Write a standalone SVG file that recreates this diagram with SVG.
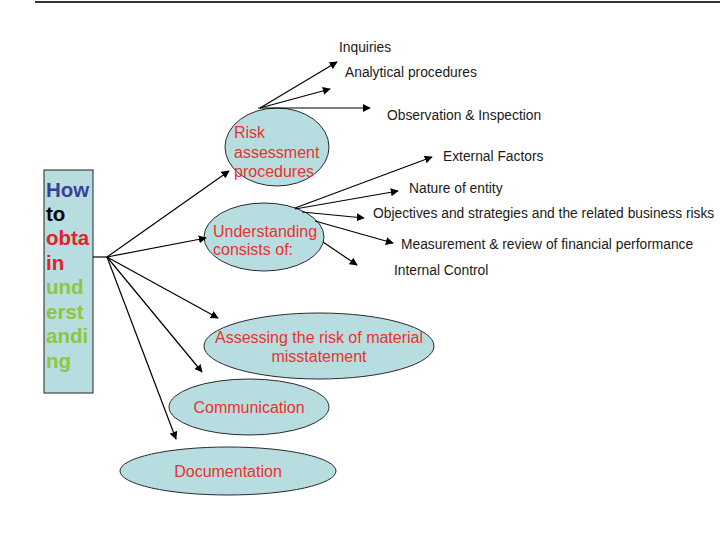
<svg xmlns="http://www.w3.org/2000/svg" width="720" height="540" viewBox="0 0 720 540">
<style>
.ell{fill:#B8DDE1;stroke:#2a2a2a;stroke-width:1}
.red{fill:#E8332B;font-family:"Liberation Sans",Arial,sans-serif;font-size:16px}
.lbl{fill:#1a1a1a;font-family:"Liberation Sans",Arial,sans-serif;font-size:13.8px}
.big{font-family:"Liberation Sans",Arial,sans-serif;font-size:20.5px;font-weight:bold}
.con line{stroke:#000;stroke-width:1.2;marker-end:url(#ah)}
</style>
<defs>
<marker id="ah" viewBox="0 0 10 10" refX="9" refY="5" markerWidth="8" markerHeight="8" markerUnits="userSpaceOnUse" orient="auto">
<path d="M0,0 L10,5 L0,10 z" fill="#000"/>
</marker>
</defs>
<rect width="720" height="540" fill="#fff"/>
<line x1="35" y1="2" x2="720" y2="2" stroke="#333" stroke-width="2"/>

<g id="main">
<rect x="44" y="170" width="49" height="223" fill="#B8DDE1" stroke="#222" stroke-width="1"/>
<text class="big" x="46" y="197" fill="#3A3F96">How</text>
<text class="big" x="46" y="221" fill="#000">to</text>
<text class="big" x="46" y="245" fill="#E0222A">obta</text>
<text class="big" x="46" y="270" fill="#E0222A">in</text>
<text class="big" x="46" y="294" fill="#8DC63F">und</text>
<text class="big" x="46" y="319" fill="#8DC63F">erst</text>
<text class="big" x="46" y="343" fill="#8DC63F">andi</text>
<text class="big" x="46" y="368" fill="#8DC63F">ng</text>
</g>

<g id="risk">
<ellipse class="ell" cx="277" cy="147" rx="52" ry="39"/>
<text class="red" x="234" y="138">Risk</text>
<text class="red" x="234" y="158">assessment</text>
<text class="red" x="234" y="177">procedures</text>
</g>

<g id="understanding">
<ellipse class="ell" cx="264" cy="237" rx="60" ry="34"/>
<text class="red" x="213" y="237">Understanding</text>
<text class="red" x="213" y="255">consists of:</text>
</g>

<g id="assessing">
<ellipse class="ell" cx="319" cy="346" rx="115" ry="33"/>
<text class="red" x="319" y="343" text-anchor="middle">Assessing the risk of material</text>
<text class="red" x="319" y="362" text-anchor="middle">misstatement</text>
</g>

<g id="communication">
<ellipse class="ell" cx="249" cy="407" rx="80" ry="28"/>
<text class="red" x="249" y="413" text-anchor="middle">Communication</text>
</g>

<g id="documentation">
<ellipse class="ell" cx="228" cy="471" rx="108" ry="24"/>
<text class="red" x="228" y="477" text-anchor="middle">Documentation</text>
</g>

<g id="labels">
<text class="lbl" x="339" y="52">Inquiries</text>
<text class="lbl" x="345" y="77">Analytical procedures</text>
<text class="lbl" x="387" y="120">Observation &amp; Inspection</text>
<text class="lbl" x="443" y="161">External Factors</text>
<text class="lbl" x="409" y="193">Nature of entity</text>
<text class="lbl" x="373" y="218">Objectives and strategies and the related business risks</text>
<text class="lbl" x="401" y="249">Measurement &amp; review of financial performance</text>
<text class="lbl" x="394" y="275">Internal Control</text>
</g>

<g id="connectors" class="con">
<line x1="93" y1="257" x2="107" y2="257" style="marker-end:none"/>
<line x1="107" y1="257" x2="229" y2="171"/>
<line x1="107" y1="257" x2="206" y2="238"/>
<line x1="107" y1="257" x2="218" y2="318"/>
<line x1="107" y1="257" x2="202" y2="372"/>
<line x1="107" y1="257" x2="176" y2="439"/>
<line x1="260" y1="108" x2="337" y2="62"/>
<line x1="260" y1="108" x2="330" y2="89"/>
<line x1="258" y1="108" x2="370" y2="108"/>
<line x1="295" y1="208" x2="432" y2="157"/>
<line x1="295" y1="209" x2="398" y2="191"/>
<line x1="302" y1="212" x2="364" y2="218"/>
<line x1="315" y1="221" x2="393" y2="243"/>
<line x1="323" y1="242" x2="357" y2="265"/>
</g>
</svg>
